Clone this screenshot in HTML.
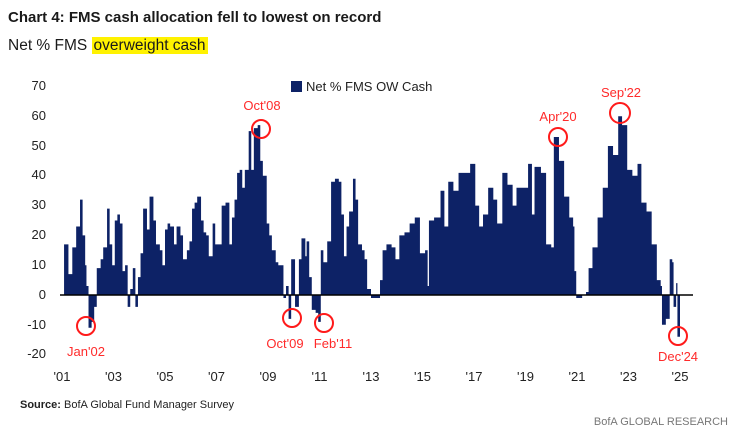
<!DOCTYPE html><html><head><meta charset="utf-8"><style>
body{margin:0;width:740px;height:435px;background:#fff;font-family:"Liberation Sans",sans-serif;overflow:hidden;position:relative}
#t{position:absolute;left:8px;top:9px;font-size:15px;font-weight:bold;color:#1a1a1a;white-space:nowrap}
#s{position:absolute;left:8px;top:36px;font-size:15.5px;color:#1a1a1a;white-space:nowrap;line-height:20px}
#s span{background:#fff200;padding:0 2px}
svg{position:absolute;left:0;top:0}
</style></head><body>
<svg width="740" height="435" xmlns="http://www.w3.org/2000/svg" font-family="Liberation Sans, sans-serif">
<g font-size="13" fill="#222" text-anchor="end">
<text x="46" y="90">70</text><text x="46" y="120">60</text><text x="46" y="150">50</text><text x="46" y="179">40</text><text x="46" y="209">30</text><text x="46" y="239">20</text><text x="46" y="269">10</text><text x="46" y="299">0</text><text x="46" y="329">-10</text><text x="46" y="358">-20</text>
</g>
<g font-size="13" fill="#222" text-anchor="middle">
<text x="62" y="381">'01</text><text x="113.5" y="381">'03</text><text x="165" y="381">'05</text><text x="216.5" y="381">'07</text><text x="268" y="381">'09</text><text x="319.5" y="381">'11</text><text x="371" y="381">'13</text><text x="422.5" y="381">'15</text><text x="474" y="381">'17</text><text x="525.5" y="381">'19</text><text x="577" y="381">'21</text><text x="628.5" y="381">'23</text><text x="680" y="381">'25</text>
</g>
<polygon transform="matrix(25.75 0 0 -2.98 36.25 295)" fill="#0d2266" points="1.08,0 1.08,17 1.25,17 1.25,7 1.4,7 1.4,16 1.55,16 1.55,23 1.7,23 1.7,32 1.8,32 1.8,20 1.9,20 1.9,10 1.95,10 1.95,3 2.03,3 2.03,-11 2.15,-11 2.15,-9 2.25,-9 2.25,-4 2.35,-4 2.35,9 2.5,9 2.5,12 2.6,12 2.6,16 2.75,16 2.75,29 2.85,29 2.85,17 2.95,17 2.95,10 3.05,10 3.05,25 3.15,25 3.15,27 3.25,27 3.25,24 3.35,24 3.35,8 3.45,8 3.45,10 3.55,10 3.55,-4 3.65,-4 3.65,2 3.75,2 3.75,9 3.85,9 3.85,-4 3.95,-4 3.95,6 4.05,6 4.05,14 4.15,14 4.15,29 4.3,29 4.3,22 4.4,22 4.4,33 4.55,33 4.55,25 4.65,25 4.65,17 4.8,17 4.8,15 4.9,15 4.9,10 5.0,10 5.0,22 5.1,22 5.1,24 5.2,24 5.2,23 5.35,23 5.35,17 5.45,17 5.45,23 5.6,23 5.6,20 5.7,20 5.7,12 5.85,12 5.85,15 5.95,15 5.95,18 6.05,18 6.05,29 6.15,29 6.15,31 6.25,31 6.25,33 6.4,33 6.4,25 6.5,25 6.5,21 6.6,21 6.6,20 6.7,20 6.7,13 6.85,13 6.85,24 6.95,24 6.95,17 7.1,17 7.2,17 7.2,30 7.35,30 7.35,31 7.5,31 7.5,17 7.6,17 7.6,26 7.7,26 7.7,32 7.8,32 7.8,41 7.9,41 7.9,42 8.0,42 8.0,36 8.1,36 8.1,42 8.25,42 8.25,55 8.35,55 8.35,42 8.45,42 8.45,56 8.6,56 8.6,57 8.7,57 8.7,45 8.8,45 8.8,40 8.95,40 8.95,24 9.05,24 9.05,20 9.15,20 9.15,15 9.3,15 9.3,11 9.4,11 9.4,10 9.6,10 9.6,-1 9.7,-1 9.7,3 9.8,3 9.8,-8 9.9,-8 9.9,12 10.05,12 10.05,-4 10.2,-4 10.2,12 10.3,12 10.3,19 10.45,19 10.45,13 10.5,13 10.5,18 10.6,18 10.6,6 10.7,6 10.7,-5 10.85,-5 10.85,-6 10.95,-6 10.95,-9 11.05,-9 11.05,15 11.15,15 11.15,11 11.3,11 11.3,18 11.45,18 11.45,38 11.6,38 11.6,39 11.75,39 11.75,38 11.85,38 11.85,27 11.95,27 11.95,13 12.05,13 12.05,23 12.15,23 12.15,28 12.3,28 12.3,39 12.4,39 12.4,32 12.5,32 12.5,17 12.65,17 12.65,15 12.75,15 12.75,12 12.85,12 12.85,2 13.0,2 13.0,-1 13.35,-1 13.35,5 13.45,5 13.45,15 13.6,15 13.6,17 13.8,17 13.8,16 13.95,16 13.95,12 14.1,12 14.1,20 14.3,20 14.3,21 14.5,21 14.5,24 14.7,24 14.7,26 14.9,26 14.9,14 15.1,14 15.1,15 15.2,15 15.2,3 15.25,3 15.25,25 15.45,25 15.45,26 15.7,26 15.7,35 15.85,35 15.85,23 16.0,23 16.0,38 16.2,38 16.2,35 16.4,35 16.4,41 16.65,41 16.85,41 16.85,44 17.05,44 17.05,30 17.2,30 17.2,23 17.35,23 17.35,27 17.55,27 17.55,36 17.75,36 17.75,32 17.9,32 17.9,24 18.1,24 18.1,41 18.3,41 18.3,37 18.5,37 18.5,30 18.65,30 18.65,36 18.9,36 19.1,36 19.1,44 19.25,44 19.25,27 19.35,27 19.35,43 19.6,43 19.6,41 19.8,41 19.8,17 20.0,17 20.0,16 20.1,16 20.1,53 20.3,53 20.3,45 20.5,45 20.5,33 20.7,33 20.7,26 20.85,26 20.85,23 20.9,23 20.9,8 20.97,8 20.97,-1 21.2,-1 21.2,0 21.35,0 21.35,1 21.45,1 21.45,9 21.6,9 21.6,16 21.8,16 21.8,26 22.0,26 22.0,36 22.2,36 22.2,50 22.4,50 22.4,47 22.6,47 22.6,60 22.75,60 22.75,57 22.95,57 22.95,42 23.15,42 23.15,40 23.35,40 23.35,44 23.5,44 23.5,31 23.7,31 23.7,28 23.9,28 23.9,17 24.1,17 24.1,5 24.25,5 24.25,3 24.3,3 24.3,-10 24.45,-10 24.45,-8 24.6,-8 24.6,12 24.7,12 24.7,11 24.75,11 24.75,-4 24.85,-4 24.85,4 24.9,4 24.9,-14 25.0,-14 25.0,0"/>
<line x1="60" y1="295" x2="693" y2="295" stroke="#000" stroke-width="1.5"/>
<rect x="291" y="81" width="11" height="11" fill="#0d2266"/>
<text x="306" y="91" font-size="13" fill="#222">Net % FMS OW Cash</text>
<g fill="none" stroke="#ff1a1a" stroke-width="2">
<circle cx="86" cy="326" r="9"/><circle cx="261" cy="129" r="9"/><circle cx="292" cy="318" r="9"/><circle cx="324" cy="323" r="9"/><circle cx="558" cy="137" r="9"/><circle cx="620" cy="113" r="10"/><circle cx="678" cy="336" r="9"/>
</g>
<g font-size="13" fill="#ff2a2a" text-anchor="middle">
<text x="86" y="356">Jan'02</text><text x="262" y="110">Oct'08</text><text x="285" y="348">Oct'09</text><text x="333" y="348">Feb'11</text><text x="558" y="121">Apr'20</text><text x="621" y="97">Sep'22</text><text x="678" y="361">Dec'24</text>
</g>
<text x="20" y="408" font-size="11" fill="#222"><tspan font-weight="bold">Source:</tspan> BofA Global Fund Manager Survey</text>
<text x="728" y="425" font-size="11" fill="#777" text-anchor="end">BofA GLOBAL RESEARCH</text>
</svg>
<div id="t">Chart 4: FMS cash allocation fell to lowest on record</div>
<div id="s">Net % FMS <span>overweight cash</span></div>
</body></html>
